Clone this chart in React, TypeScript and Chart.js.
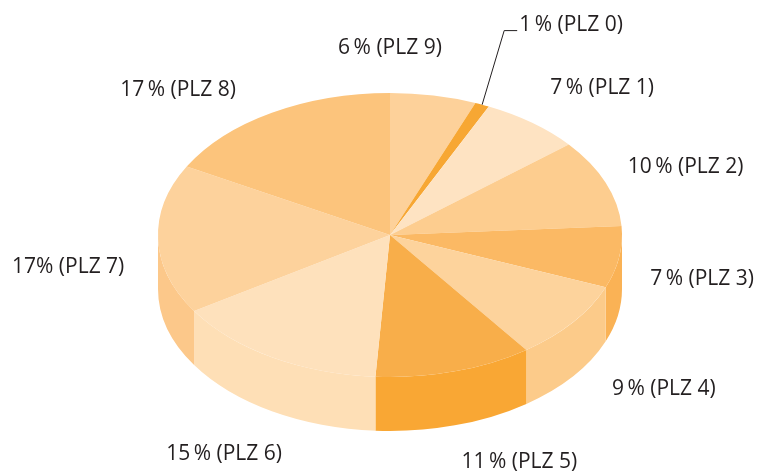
import React, { useEffect, useRef } from "react";
import { Chart, registerables } from "chart.js";

Chart.register(...registerables);

// ---- data (clockwise from 12 o'clock) ----
const CATEGORIES = ["PLZ 9", "PLZ 0", "PLZ 1", "PLZ 2", "PLZ 3", "PLZ 4", "PLZ 5", "PLZ 6", "PLZ 7", "PLZ 8"];
const SHARES = [6, 1, 7, 10, 7, 9, 11, 15, 17, 17];
const PERCENT_SEP = ["\u2009", "\u2009", "\u2009", "\u2009", "\u2009", "\u2009", "\u2009", "\u2009", "", "\u2009"];

// ---- style ----
const TOP_COLORS = ["#FDD19A", "#F7A733", "#FEE3C2", "#FDCD8F", "#FBB964", "#FDD39C", "#F8AE4A", "#FEE1BC", "#FDD29C", "#FCC47C"];
const SIDE_COLORS = ["#FCC98A", "#F6A12A", "#FDDDB6", "#FCC582", "#FAB255", "#FCCB8A", "#F9A734", "#FEDFB6", "#FCC88A", "#FBBD6E"];
const LABEL_NUDGE: [number, number][] = [
  [-60, -4], [54, -41], [16, -5], [-2, -16], [-4, -16], [21, -4], [40, -5], [-3, 8], [-2, -2], [-49, 12],
];
const LEADER_INDEX = 1;
const R = 140;
const SX = 232 / 140;
const SY = 142 / 140;
const DEPTH = 54;
const FONT = '21px "Open Sans", "Noto Sans", sans-serif';
const TEXT_COLOR = "#231F20";

const pie3d = {
  id: "pie3d",
  beforeDatasetsDraw(chart: any) {
    const ctx: CanvasRenderingContext2D = chart.ctx;
    const arcs = chart.getDatasetMeta(0).data;
    if (!arcs.length) return;
    const cx = arcs[0].x;
    const cy = arcs[0].y;
    ctx.save();
    const base = ctx.getTransform();
    const setT = (dy: number) => {
      ctx.setTransform(base);
      ctx.translate(cx, cy + dy);
      ctx.scale(SX, SY);
      ctx.translate(-cx, -cy);
    };
    arcs.forEach((a: any, i: number) => {
      const s = Math.max(a.startAngle, 0);
      const e = Math.min(a.endAngle, Math.PI);
      if (e <= s) return;
      ctx.beginPath();
      setT(0);
      ctx.arc(cx, cy, a.outerRadius, s, e);
      setT(DEPTH);
      ctx.arc(cx, cy, a.outerRadius, e, s, true);
      ctx.closePath();
      ctx.fillStyle = SIDE_COLORS[i];
      ctx.fill();
    });
    setT(0);
  },
  afterDatasetsDraw(chart: any) {
    chart.ctx.restore();
  },
  afterDraw(chart: any) {
    const ctx: CanvasRenderingContext2D = chart.ctx;
    const arcs = chart.getDatasetMeta(0).data;
    if (!arcs.length) return;
    const cx = arcs[0].x;
    const cy = arcs[0].y;
    const rx = arcs[0].outerRadius * SX;
    const ry = arcs[0].outerRadius * SY;
    ctx.save();
    ctx.font = FONT;
    ctx.fillStyle = TEXT_COLOR;
    ctx.strokeStyle = TEXT_COLOR;
    ctx.textAlign = "center";
    ctx.textBaseline = "middle";
    arcs.forEach((a: any, i: number) => {
      const mid = (a.startAngle + a.endAngle) / 2;
      const c = Math.cos(mid);
      const s = Math.sin(mid);
      const x = cx + (rx + 88) * c + LABEL_NUDGE[i][0];
      const y = cy + (ry + 45) * s + (DEPTH / 2) * (1 + s) + LABEL_NUDGE[i][1];
      const text = `${SHARES[i]}${PERCENT_SEP[i]}% (${CATEGORIES[i]})`;
      ctx.fillText(text, x, y);
      if (i === LEADER_INDEX) {
        const w = ctx.measureText(text).width;
        const left = x - w / 2;
        const by = y + 6;
        ctx.lineWidth = 1;
        ctx.beginPath();
        ctx.moveTo(cx + rx * c, cy + ry * s);
        ctx.lineTo(left - 15, by);
        ctx.lineTo(left - 2, by);
        ctx.stroke();
      }
    });
    ctx.restore();
  },
};

export default function App() {
  const ref = useRef<HTMLCanvasElement>(null);
  useEffect(() => {
    if (!ref.current) return;
    const chart = new Chart(ref.current, {
      type: "pie",
      data: {
        labels: CATEGORIES,
        datasets: [
          {
            data: SHARES,
            backgroundColor: TOP_COLORS,
            borderWidth: 0,
            hoverOffset: 0,
            radius: R,
            clip: false,
          } as any,
        ],
      },
      options: {
        responsive: false,
        animation: false,
        events: [],
        layout: { padding: { left: 250, right: 228, top: 95, bottom: 100 } },
        plugins: { legend: { display: false }, tooltip: { enabled: false } },
      },
      plugins: [pie3d],
    });
    return () => chart.destroy();
  }, []);
  return (
    <div style={{ position: "fixed", left: 0, top: 0, width: 758, height: 475, background: "#fff" }}>
      <canvas ref={ref} width={758} height={475} style={{ display: "block" }} />
    </div>
  );
}
